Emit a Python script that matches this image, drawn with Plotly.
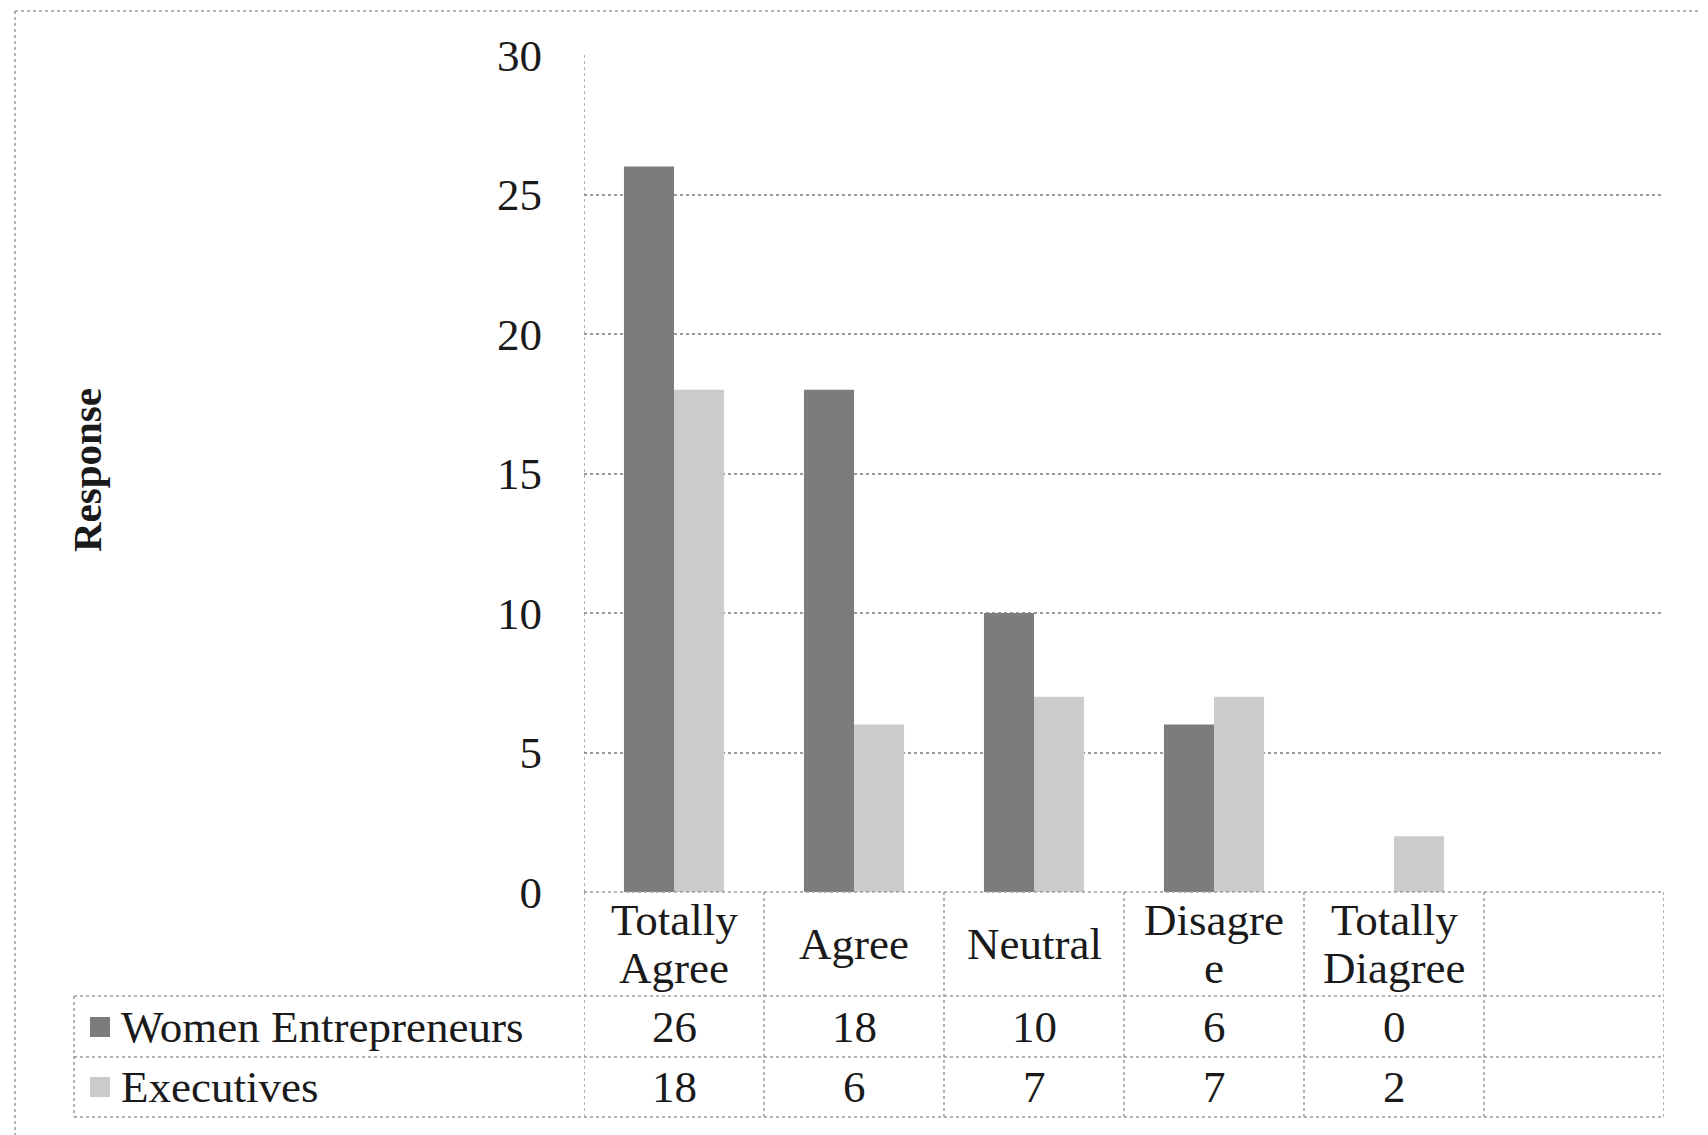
import plotly.graph_objects as go

# ---- data ----
categories = ["Totally<br>Agree", "Agree", "Neutral", "Disagre<br>e", "Totally<br>Diagree"]
series_names = ["Women Entrepreneurs", "Executives"]
women_entrepreneurs = [26, 18, 10, 6, 0]
executives = [18, 6, 7, 7, 2]
y_ticks = [0, 5, 10, 15, 20, 25, 30]

# ---- styles ----
W, H = 1708, 1135
OFF = 8  # page body margin
ML, MR, MT, MB = 584 - OFF, 44 + OFF, 55 - OFF, 243 + OFF
PW = W - ML - MR
PH = H - MT - MB
FONT = "Liberation Serif"
TXT = "#1a1a1a"
LINE = "#9a9a9a"
COL_WE = "#7c7c7c"
COL_EX = "#cbcbcb"
n_cols = len(categories) + 1  # trailing empty column of the Excel data table
xs = list(range(len(categories)))


def py(pix):
    return (H - MB - (pix - OFF)) / PH


def px(pix):
    return (pix - OFF - ML) / PW


fig = go.Figure()
fig.add_trace(go.Bar(x=xs, y=women_entrepreneurs, name=series_names[0],
                     marker=dict(color=COL_WE, line=dict(width=0))))
fig.add_trace(go.Bar(x=xs, y=executives, name=series_names[1],
                     marker=dict(color=COL_EX, line=dict(width=0))))

# table geometry (pixel rows)
y_head_bot = py(996)
y_r1_bot = py(1057)
y_r2_bot = py(1117)
y_head_mid = py(944)
row_mids = [py(1027), py(1087)]
x_tab_left = px(74)

shapes = []
dot = dict(color=LINE, width=1.5, dash="dot")
# outer chart border (top & left)
shapes.append(dict(type="line", xref="paper", yref="paper", x0=px(15), x1=px(W + OFF), y0=py(11), y1=py(11), line=dot))
shapes.append(dict(type="line", xref="paper", yref="paper", x0=px(15), x1=px(15), y0=py(11), y1=py(H + OFF), line=dot))
# plot area left border
shapes.append(dict(type="line", xref="x", yref="paper", x0=-0.5, x1=-0.5, y0=0, y1=1, line=dot))
# table horizontal lines
shapes.append(dict(type="line", xref="x", yref="paper", x0=-0.5, x1=n_cols - 0.5, y0=0, y1=0, line=dot))
for yy in (y_head_bot, y_r1_bot, y_r2_bot):
    shapes.append(dict(type="line", xref="paper", yref="paper", x0=x_tab_left, x1=1, y0=yy, y1=yy, line=dot))
# table vertical lines
shapes.append(dict(type="line", xref="paper", yref="paper", x0=x_tab_left, x1=x_tab_left, y0=y_head_bot, y1=y_r2_bot, line=dot))
for i in range(n_cols + 1):
    shapes.append(dict(type="line", xref="x", yref="paper", x0=i - 0.5, x1=i - 0.5, y0=0, y1=y_r2_bot, line=dot))
# legend swatches
for col, mid in zip((COL_WE, COL_EX), row_mids):
    shapes.append(dict(type="rect", xref="paper", yref="paper", x0=px(90), x1=px(110),
                       y0=mid - 10 / PH, y1=mid + 10 / PH, fillcolor=col, line=dict(width=0)))

annotations = []
TABLE_FS = 45
# header labels
LINE_H = 48
for i, lab in enumerate(categories):
    parts = lab.split("<br>")
    n = len(parts)
    for k, part in enumerate(parts):
        shift = (-(k - (n - 1) / 2)) * LINE_H
        annotations.append(dict(x=i, y=y_head_mid, xref="x", yref="paper", text=part, showarrow=False,
                                xanchor="center", yanchor="middle", yshift=shift,
                                font=dict(family=FONT, size=TABLE_FS, color=TXT)))
# series names and values
for name, vals, mid in zip(series_names, (women_entrepreneurs, executives), row_mids):
    annotations.append(dict(x=px(119), y=mid, xref="paper", yref="paper", text=name, showarrow=False,
                            xanchor="left", yanchor="middle",
                            font=dict(family=FONT, size=TABLE_FS, color=TXT)))
    for i, v in enumerate(vals):
        annotations.append(dict(x=i, y=mid, xref="x", yref="paper", text=str(v), showarrow=False,
                                xanchor="center", yanchor="middle",
                                font=dict(family=FONT, size=TABLE_FS, color=TXT)))
# axis title
annotations.append(dict(x=px(87), y=py(470), xref="paper", yref="paper", text="<b>Response</b>",
                        showarrow=False, textangle=-90, xanchor="center", yanchor="middle",
                        font=dict(family=FONT, size=41, color=TXT)))

fig.update_layout(
    width=W, height=H,
    margin=dict(l=ML, r=MR, t=MT, b=MB),
    paper_bgcolor="white", plot_bgcolor="white",
    barmode="group", bargap=0.444, bargroupgap=0,
    showlegend=False,
    shapes=shapes, annotations=annotations,
    font=dict(family=FONT, color=TXT),
    xaxis=dict(range=[-0.5, n_cols - 0.5], showticklabels=False, showgrid=False, zeroline=False,
               showline=False, ticks=""),
    yaxis=dict(range=[0, 30], tickvals=y_ticks, showgrid=True, gridcolor=LINE, gridwidth=1.5,
               griddash="dot", zeroline=False, showline=False, ticks="outside", ticklen=32,
               tickcolor="rgba(0,0,0,0)", tickfont=dict(family=FONT, size=45, color=TXT)),
)

fig.write_html("out.html")
